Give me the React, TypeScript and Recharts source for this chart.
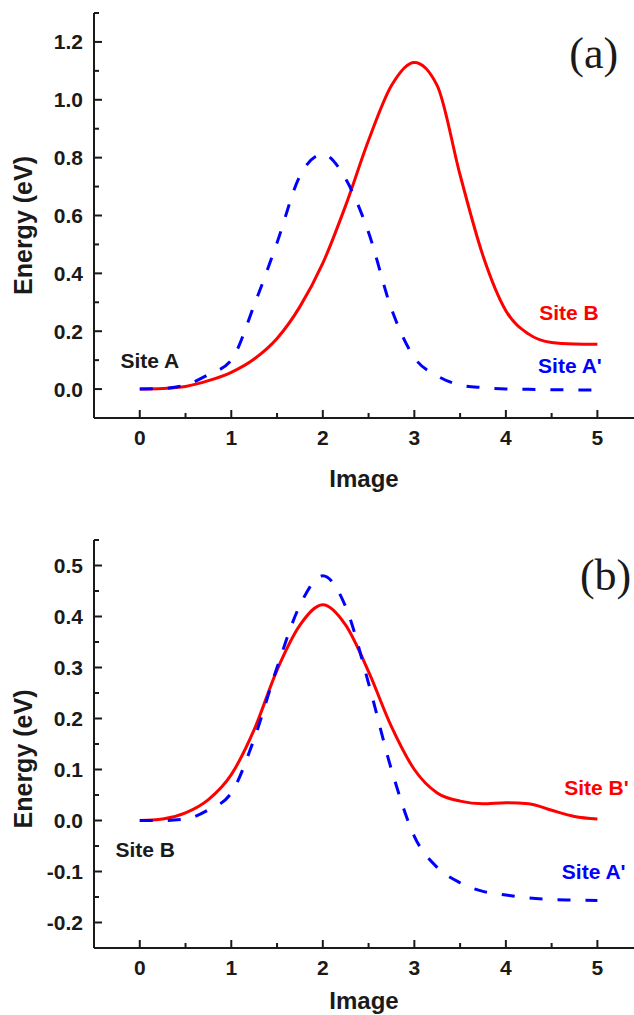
import React from 'react'
import { LineChart, Line, XAxis, YAxis, ReferenceDot, Label } from 'recharts'

// reaction coordinate (image index), shared by both panels
const images = [0, 0.25, 0.5, 0.75, 1, 1.25, 1.5, 1.75, 2, 2.25, 2.5, 2.75, 3, 3.25, 3.5, 3.75, 4, 4.25, 4.5, 4.75, 5]

// panel (a): start at Site A
const aSiteB = [0, 0.002, 0.009, 0.029, 0.058, 0.104, 0.175, 0.285, 0.435, 0.635, 0.86, 1.049, 1.129, 1.049, 0.74, 0.461, 0.271, 0.19, 0.161, 0.156, 0.155]
const aSiteA2 = [0, 0.002, 0.014, 0.05, 0.1, 0.29, 0.506, 0.737, 0.812, 0.726, 0.541, 0.277, 0.109, 0.046, 0.014, 0.005, 0, -0.001, -0.002, -0.003, -0.003]

// panel (b): start at Site B
const bSiteB2 = [0, 0.003, 0.015, 0.041, 0.09, 0.178, 0.295, 0.383, 0.423, 0.383, 0.292, 0.184, 0.1, 0.054, 0.038, 0.033, 0.035, 0.033, 0.02, 0.008, 0.003]
const bSiteA2 = [0, 0, 0.003, 0.021, 0.054, 0.16, 0.3, 0.422, 0.48, 0.419, 0.269, 0.1, -0.031, -0.092, -0.122, -0.139, -0.146, -0.152, -0.155, -0.156, -0.157]

const xTicks = [0, 0.5, 1, 1.5, 2, 2.5, 3, 3.5, 4, 4.5, 5]
const yTicksA = [-0.1, 0, 0.1, 0.2, 0.3, 0.4, 0.5, 0.6, 0.7, 0.8, 0.9, 1.0, 1.1, 1.2, 1.3]
const yTicksB = [-0.25, -0.2, -0.15, -0.1, -0.05, 0, 0.05, 0.1, 0.15, 0.2, 0.25, 0.3, 0.35, 0.4, 0.45, 0.5, 0.55]

const dataA = images.map((x, i) => ({ image: x, siteB: aSiteB[i], siteA2: aSiteA2[i] }))
const dataB = images.map((x, i) => ({ image: x, siteB2: bSiteB2[i], siteA2: bSiteA2[i] }))

const SANS = '"Liberation Sans", Arial, sans-serif'
const SERIF = '"Liberation Serif", "Times New Roman", serif'
const INK = '#1a1a1a'
const RED = '#ff0000'
const BLUE = '#0000ff'

function XTick(props: any) {
  const { x, y, payload } = props
  const v = payload.value
  const major = Number.isInteger(v)
  return (
    <g>
      <line x1={x} x2={x} y1={y} y2={y - (major ? 8 : 5)} stroke={INK} strokeWidth={2} />
      {major && (
        <text x={x} y={y + 27} textAnchor="middle" fontFamily={SANS} fontWeight="bold" fontSize={21} fill={INK}>
          {v}
        </text>
      )}
    </g>
  )
}

function YTick(props: any) {
  const { x, y, payload, isMajor } = props
  const v = payload.value
  const major = isMajor(v)
  return (
    <g>
      <line x1={x} x2={x + (major ? 8 : 5)} y1={y} y2={y} stroke={INK} strokeWidth={2} />
      {major && (
        <text x={x - 11} y={y} dy={7.5} textAnchor="end" fontFamily={SANS} fontWeight="bold" fontSize={21} fill={INK}>
          {v.toFixed(1)}
        </text>
      )}
    </g>
  )
}

function YTitle(props: any) {
  const { viewBox, shift } = props
  const cy = (viewBox ? viewBox.y + viewBox.height / 2 : 200) + shift
  return (
    <text x={23} y={cy} transform={`rotate(-90, 23, ${cy})`} textAnchor="middle" dominantBaseline="central"
      fontFamily={SANS} fontWeight="bold" fontSize={25} fill={INK}>
      Energy (eV)
    </text>
  )
}

const majorA = (v: number) => Math.round(v * 10) % 2 === 0
const majorB = (v: number) => Math.round(v * 100) % 10 === 0

const axisLine = { stroke: INK, strokeWidth: 2 }

function note(text: string, color: string) {
  return { value: text, position: 'center' as const, fill: color, fontSize: 21, fontWeight: 'bold', fontFamily: SANS }
}

export default function App() {
  return (
    <div style={{ position: 'absolute', left: 0, top: 0, width: 634, height: 1015, background: '#fff', overflow: 'hidden' }}>
      <div style={{ position: 'absolute', left: 0, top: 0 }}>
        <LineChart width={634} height={500} data={dataA} margin={{ top: 13, right: 0, bottom: 12, left: 0 }}>
          <XAxis type="number" dataKey="image" domain={[-0.5, 5.4]} ticks={xTicks} interval={0} allowDataOverflow
            height={70} tickSize={0} tickMargin={0} tickLine={false} axisLine={axisLine} tick={<XTick />}>
            <Label value="Image" position="insideBottom" offset={1} fill={INK} fontSize={24} fontWeight="bold" fontFamily={SANS} />
          </XAxis>
          <YAxis type="number" domain={[-0.1, 1.3]} ticks={yTicksA} interval={0} allowDataOverflow width={94}
            tickSize={0} tickMargin={0} tickLine={false} axisLine={axisLine} tick={<YTick isMajor={majorA} />}
            label={<YTitle shift={10} />} />
          <Line type="monotone" dataKey="siteB" stroke={RED} strokeWidth={3} dot={false} isAnimationActive={false} />
          <Line type="monotone" dataKey="siteA2" stroke={BLUE} strokeWidth={3} strokeDasharray="13 15" dot={false} isAnimationActive={false} />
          <ReferenceDot x={0.11} y={0.1} r={0} fill="none" stroke="none" label={note('Site A', INK)} />
          <ReferenceDot x={4.69} y={0.266} r={0} fill="none" stroke="none" label={note('Site B', RED)} />
          <ReferenceDot x={4.7} y={0.08} r={0} fill="none" stroke="none" label={note("Site A'", BLUE)} />
          <ReferenceDot x={4.96} y={1.165} r={0} fill="none" stroke="none"
            label={{ value: '(a)', position: 'center', fill: INK, fontSize: 44, fontFamily: SERIF }} />
        </LineChart>
      </div>
      <div style={{ position: 'absolute', left: 0, top: 500 }}>
        <LineChart width={634} height={515} data={dataB} margin={{ top: 40, right: 0, bottom: 0, left: 0 }}>
          <XAxis type="number" dataKey="image" domain={[-0.5, 5.4]} ticks={xTicks} interval={0} allowDataOverflow
            height={67} tickSize={0} tickMargin={0} tickLine={false} axisLine={axisLine} tick={<XTick />}>
            <Label value="Image" position="insideBottom" offset={6} fill={INK} fontSize={24} fontWeight="bold" fontFamily={SANS} />
          </XAxis>
          <YAxis type="number" domain={[-0.25, 0.55]} ticks={yTicksB} interval={0} allowDataOverflow width={94}
            tickSize={0} tickMargin={0} tickLine={false} axisLine={axisLine} tick={<YTick isMajor={majorB} />}
            label={<YTitle shift={15} />} />
          <Line type="monotone" dataKey="siteB2" stroke={RED} strokeWidth={3} dot={false} isAnimationActive={false} />
          <Line type="monotone" dataKey="siteA2" stroke={BLUE} strokeWidth={3} strokeDasharray="13 15" dot={false} isAnimationActive={false} />
          <ReferenceDot x={0.06} y={-0.057} r={0} fill="none" stroke="none" label={note('Site B', INK)} />
          <ReferenceDot x={4.99} y={0.064} r={0} fill="none" stroke="none" label={note("Site B'", RED)} />
          <ReferenceDot x={4.96} y={-0.1} r={0} fill="none" stroke="none" label={note("Site A'", BLUE)} />
          <ReferenceDot x={5.09} y={0.482} r={0} fill="none" stroke="none"
            label={{ value: '(b)', position: 'center', fill: INK, fontSize: 44, fontFamily: SERIF }} />
        </LineChart>
      </div>
    </div>
  )
}
